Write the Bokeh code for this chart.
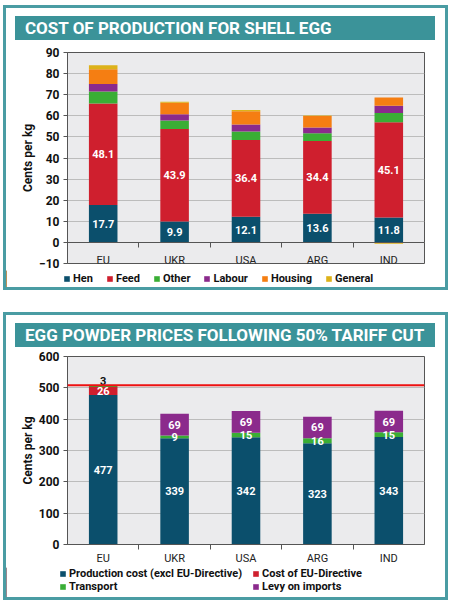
from bokeh.plotting import figure
from bokeh.models import (ColumnDataSource, FixedTicker, Span, Div, Legend,
                          LegendItem, Range1d)
from bokeh.layouts import column
from bokeh.embed import file_html
from bokeh.resources import INLINE
from bokeh.core.properties import value

# ---------------- data ----------------
countries = ["EU", "UKR", "USA", "ARG", "IND"]

shell_title = "COST OF PRODUCTION FOR SHELL EGG"
shell_series = ["Hen", "Feed", "Other", "Labour", "Housing", "General"]
shell_hen = [17.7, 9.9, 12.1, 13.6, 11.8]
shell_feed = [48.1, 43.9, 36.4, 34.4, 45.1]
shell_other = [5.7, 4.0, 4.1, 3.7, 4.4]
shell_labour = [3.6, 2.9, 3.3, 2.8, 3.5]
shell_housing = [7.0, 5.5, 6.2, 5.4, 3.9]
shell_general = [1.9, 0.5, 0.6, 0.3, -0.6]
shell_labelled = ["Hen", "Feed"]
shell_yticks = [-10, 0, 10, 20, 30, 40, 50, 60, 70, 80, 90]

powder_title = "EGG POWDER PRICES FOLLOWING 50% TARIFF CUT"
powder_series = ["Production cost (excl EU-Directive)", "Cost of EU-Directive",
                 "Transport", "Levy on imports"]
powder_production = [477, 339, 342, 323, 343]
powder_directive = [26, 0, 0, 0, 0]
powder_transport = [3, 9, 15, 16, 15]
powder_levy = [0, 69, 69, 69, 69]
powder_eu_price = 508
powder_yticks = [0, 100, 200, 300, 400, 500, 600]

axis_label = "Cents per kg"

# ---------------- style ----------------
SHELL_COLORS = ["#0b4f6c", "#cf1f2e", "#3aae35", "#8b2a8c", "#f57e12", "#ddb21a"]
POWDER_COLORS = ["#0b4f6c", "#cf1f2e", "#3aae35", "#8b2a8c"]
TEAL = "#4a9ca3"
BANNER = "#3b9399"
FONT = "Roboto"
DARK = "#555555"


def stack(series_values):
    n = len(series_values[0])
    pos = [0.0] * n
    neg = [0.0] * n
    out = []
    for vals in series_values:
        b, t = [], []
        for i, v in enumerate(vals):
            if v >= 0:
                b.append(pos[i]); t.append(pos[i] + v); pos[i] += v
            else:
                t.append(neg[i]); b.append(neg[i] + v); neg[i] += v
        out.append((b, t))
    return out


def base_figure(height, yr, yticks, border_top, border_bottom, label_standoff):
    p = figure(width=439, height=height, x_range=Range1d(-0.5, 4.5), y_range=yr,
               output_backend="svg", toolbar_location=None,
               min_border_left=61, min_border_right=21, min_border_top=border_top,
               min_border_bottom=border_bottom)
    p.background_fill_color = "#ebebed"
    p.border_fill_color = "white"
    p.outline_line_color = DARK
    p.outline_line_width = 1
    p.xgrid.visible = False
    p.ygrid.grid_line_color = "#bcbcbc"
    p.ygrid.grid_line_width = 1

    ya = p.yaxis[0]
    ya.ticker = FixedTicker(ticks=yticks)
    ya.major_label_text_font = FONT
    ya.major_label_text_font_style = "bold"
    ya.major_label_text_font_size = "12px"
    ya.major_label_text_color = "#111111"
    ya.axis_line_color = DARK
    ya.major_tick_line_color = DARK
    ya.major_tick_out = 4
    ya.major_tick_in = 0
    ya.minor_tick_line_color = None
    ya.major_label_standoff = 4
    ya.axis_label = axis_label
    ya.axis_label_text_font = FONT
    ya.axis_label_text_font_style = "bold"
    ya.axis_label_text_font_size = "12px"
    ya.axis_label_text_color = "#111111"
    ya.axis_label_standoff = 1

    xa = p.xaxis[0]
    xa.ticker = FixedTicker(ticks=list(range(len(countries))),
                            minor_ticks=[i + 0.5 for i in range(len(countries) - 1)])
    xa.major_label_overrides = {i: c for i, c in enumerate(countries)}
    xa.major_tick_line_color = None
    xa.major_tick_out = 0
    xa.major_tick_in = 0
    xa.minor_tick_line_color = DARK
    xa.minor_tick_out = 5
    xa.minor_tick_in = 0
    xa.axis_line_color = DARK
    xa.major_label_text_font = FONT
    xa.major_label_text_font_size = "11px"
    xa.major_label_text_color = "#222222"
    xa.major_label_standoff = label_standoff
    return p


def draw_stack(p, values, colors):
    stacks = stack(values)
    for vals, (b, t), col in zip(values, stacks, colors):
        src = ColumnDataSource(dict(x=list(range(len(countries))), bottom=b, top=t))
        p.vbar(x="x", bottom="bottom", top="top", width=0.4, source=src,
               fill_color=col, line_color=None)
    return stacks


def legend_figure(height, series, colors, location, ncols=None, spacing=0,
                  label_width=20):
    lf = figure(width=439, height=height, x_range=Range1d(0, 1), y_range=Range1d(0, 1),
                x_axis_type=None, y_axis_type=None, output_backend="svg",
                toolbar_location=None, min_border=0, frame_align=False)
    lf.outline_line_color = None
    lf.background_fill_color = "white"
    lf.border_fill_color = "white"
    items = []
    for name, col in zip(series, colors):
        # key swatch only: its single bar lies outside the visible range
        r = lf.vbar(x=[-10], top=[1], width=0.4, fill_color=col, line_color=None)
        items.append(LegendItem(label=name, renderers=[r]))
    kw = dict(ncols=ncols) if ncols else {}
    leg = Legend(items=items, orientation="horizontal", location=location, **kw)
    leg.label_text_font = FONT
    leg.label_text_font_style = "bold"
    leg.label_text_font_size = "11px"
    leg.label_text_color = "#111111"
    leg.glyph_width = 7
    leg.glyph_height = 7
    leg.label_height = 12
    leg.label_width = label_width
    leg.label_standoff = 3
    leg.padding = 0
    leg.margin = 0
    leg.spacing = spacing
    leg.border_line_color = None
    leg.background_fill_alpha = 0
    leg.label_text_baseline = "middle"
    lf.add_layout(leg)
    return lf


def banner(text):
    return Div(text=text, width=420, height=24, margin=(8, 0, 0, 9),
               styles={"background-color": BANNER, "color": "white",
                       "font-family": "Roboto, sans-serif", "font-weight": "bold",
                       "font-size": "17px", "line-height": "24px",
                       "padding-left": "10px", "box-sizing": "border-box",
                       "white-space": "nowrap", "overflow": "hidden"})


# ---------------- chart 1 ----------------
p1 = base_figure(230, Range1d(-10, 90), shell_yticks, 12, 7, 7)
p1.xaxis[0].fixed_location = 0
shell_values = [shell_hen, shell_feed, shell_other, shell_labour, shell_housing, shell_general]
st1 = draw_stack(p1, shell_values, SHELL_COLORS)

lx, ly, lt = [], [], []
for name, vals, (b, t) in zip(shell_series, shell_values, st1):
    if name in shell_labelled:
        for i, v in enumerate(vals):
            lx.append(i); ly.append((b[i] + t[i]) / 2); lt.append(f"{v:.1f}")
p1.text(x=lx, y=ly, text=lt, text_color="white", text_align="center",
        text_baseline="middle", text_font=value(FONT), text_font_style="bold",
        text_font_size="11px")

lf1 = legend_figure(17, shell_series, SHELL_COLORS, (57, 2), spacing=13)

# ---------------- chart 2 ----------------
p2 = base_figure(220, Range1d(0, 600), powder_yticks, 9, 20, 2)
powder_values = [powder_production, powder_directive, powder_transport, powder_levy]
st2 = draw_stack(p2, powder_values, POWDER_COLORS)

p2.add_layout(Span(location=powder_eu_price, dimension="width",
                   line_color="#ee1111", line_width=2))

ix, iy, it, ox, oy, ot = [], [], [], [], [], []
for vals, (b, t) in zip(powder_values, st2):
    for i, v in enumerate(vals):
        if v <= 0:
            continue
        if v < 5:
            ox.append(i); oy.append(t[i]); ot.append(str(v))
        else:
            ix.append(i); iy.append((b[i] + t[i]) / 2); it.append(str(v))
p2.text(x=ix, y=iy, text=it, text_color="white", text_align="center",
        text_baseline="middle", text_font=value(FONT), text_font_style="bold",
        text_font_size="11px")
p2.text(x=ox, y=oy, text=ot, text_color="#111111", text_align="center",
        text_baseline="bottom", y_offset=-1, text_font=value(FONT),
        text_font_style="bold", text_font_size="11px")

lf2 = legend_figure(30, powder_series, POWDER_COLORS, (53, 4), ncols=2, spacing=0,
                    label_width=183)

panel_style = {"border": f"3px solid {TEAL}", "background-color": "white"}
panel1 = column(banner(shell_title), p1, lf1, spacing=0, styles=panel_style)
panel2 = column(banner(powder_title), p2, lf2, spacing=0, styles=panel_style)
layout = column(panel1, panel2, spacing=22, margin=(5, 0, 0, 3))

open("out.html", "w").write(file_html(layout, INLINE))
